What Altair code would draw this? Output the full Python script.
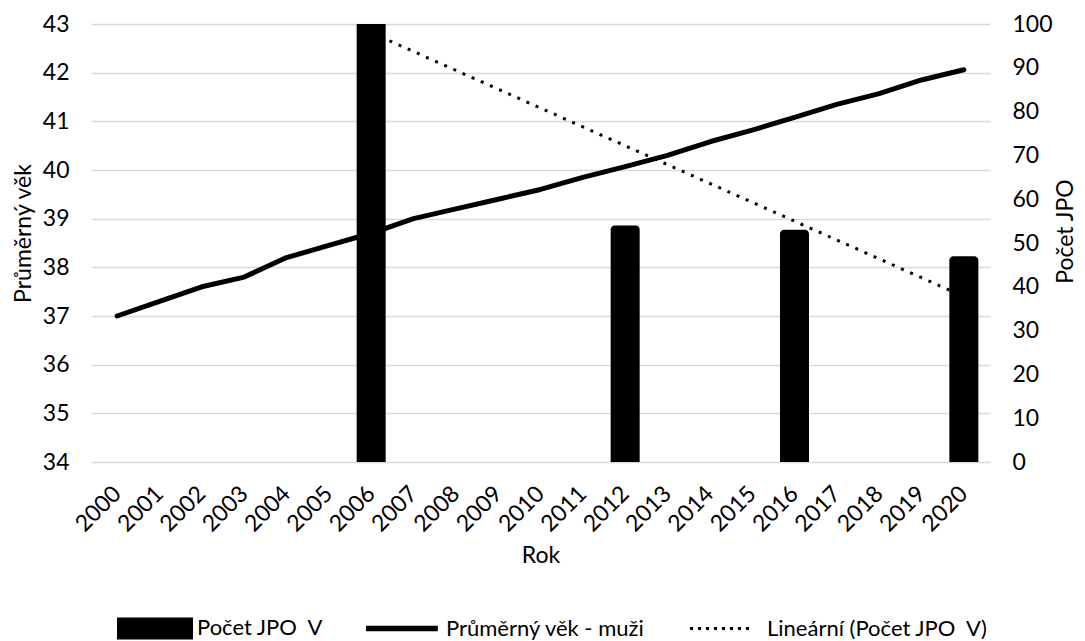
import altair as alt
import pandas as pd

# ---- data ----
years = list(range(2000, 2021))
age_men = [37.0, 37.3, 37.6, 37.8, 38.2, 38.45, 38.7, 39.0, 39.2, 39.4, 39.6,
           39.85, 40.07, 40.3, 40.58, 40.82, 41.08, 41.35, 41.57, 41.85, 42.06]

bar_years = [2006, 2012, 2016, 2020]
bar_counts = [109, 54, 53, 47]   # 2006 bar runs past the 100 axis maximum

legend_names = ["Počet JPO\u00a0 V", "Průměrný věk - muži", "Lineární (Počet JPO\u00a0 V)"]

FONT = "Lato"
FS = 23
FS_LEG = 22

df_age = pd.DataFrame({"year": years, "age": age_men})
df_bar = pd.DataFrame({"year": bar_years, "count": bar_counts})
df_leg = pd.DataFrame({"series": legend_names})

# legend symbol paths (unit = half of the symbol box)
rect_path = "M-1,-0.29H1V0.29H-1Z"
line_path = "M-1,-0.072H0.89V0.072H-1Z"
dots = []
for i in range(8):
    cx = -0.88 + i * 0.21
    dots.append(f"M{cx-0.04:.3f},-0.04H{cx+0.04:.3f}V0.04H{cx-0.04:.3f}Z")
dot_path = " ".join(dots)

x_enc = alt.X(
    "year:Q",
    scale=alt.Scale(domain=[1999.5, 2020.5], nice=False, zero=False),
    axis=alt.Axis(values=years, format="d", labelAngle=315, labelAlign="right",
                  labelBaseline="top", labelPadding=20, labelOffset=-8,
                  grid=False, ticks=False, domain=False, labelOverlap=False,
                  labelFlush=False, title="Rok", titlePadding=9),
)

bars = alt.Chart(df_bar).mark_bar(
    color="black", size=29, clip=True, orient="vertical",
    cornerRadiusTopLeft=4, cornerRadiusTopRight=4,
).encode(
    x=x_enc,
    y=alt.Y("count:Q",
            scale=alt.Scale(domain=[0, 100], nice=False),
            axis=alt.Axis(orient="right", values=list(range(0, 101, 10)),
                          grid=False, ticks=False, domain=False, tickSize=0,
                          labelPadding=22, title="Počet JPO", titleAngle=270,
                          titlePadding=25, titleY=207)),
    y2=alt.datum(0),
)

trend = alt.Chart(df_bar).transform_regression(
    "year", "count", method="linear"
).mark_line(color="black", strokeWidth=3, strokeDash=[3, 7]).encode(
    x=alt.X("year:Q"),
    y=alt.Y("count:Q"),
)

right = alt.layer(bars, trend)

age_line = alt.Chart(df_age).mark_line(
    color="black", strokeWidth=5, strokeCap="round", strokeJoin="round"
).encode(
    x=alt.X("year:Q"),
    y=alt.Y("age:Q",
            scale=alt.Scale(domain=[34, 43], nice=False, zero=False),
            axis=alt.Axis(orient="left", values=list(range(34, 44)),
                          grid=True, gridColor="#d9d9d9", gridWidth=1.5,
                          ticks=False, domain=False, tickSize=0,
                          labelPadding=22, title="Průměrný věk",
                          titlePadding=7, titleY=209)),
)

legend_layer = alt.Chart(df_leg).mark_point(
    opacity=0, filled=True, color="black"
).encode(
    shape=alt.Shape(
        "series:N",
        sort=legend_names,
        scale=alt.Scale(domain=legend_names, range=[rect_path, line_path, dot_path]),
        legend=alt.Legend(
            orient="none", legendX=26, legendY=566, direction="horizontal",
            title=None, symbolSize=5776, symbolOpacity=1,
            symbolFillColor="black", symbolStrokeWidth=0,
            labelFont=FONT, labelFontSize=FS_LEG, labelColor="black",
            labelOffset=4, columnPadding=42, padding=0, labelLimit=400,
        ),
    )
)

chart = alt.layer(right, age_line, legend_layer).resolve_scale(
    y="independent", shape="independent"
).properties(
    width=899, height=438,
    autosize=alt.AutoSizeParams(type="none"),
    padding={"left": 83, "top": 16, "right": 87, "bottom": 178},
).configure_axis(
    labelFont=FONT, titleFont=FONT, labelFontSize=FS, titleFontSize=FS,
    labelColor="black", titleColor="black", titleFontWeight="normal",
).configure_view(stroke=None)

chart.save("out.html", embed_options={"renderer": "svg", "actions": False})
